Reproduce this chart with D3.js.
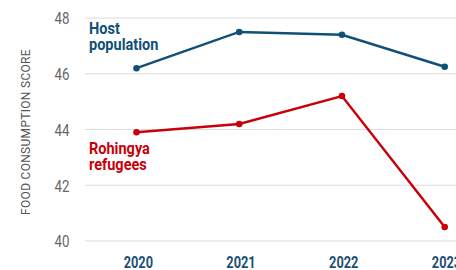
<!DOCTYPE html>
<html>
<head>
<meta charset="utf-8">
<script src="https://cdn.jsdelivr.net/npm/d3@7"></script>
<style>
  body { margin: 0; background: #fff; }
  svg text { font-family: Roboto, "Liberation Sans", sans-serif; }
</style>
</head>
<body>
<svg width="456" height="270"></svg>
<script>
var years = [2020, 2021, 2022, 2023];
var hostValues = [46.2, 47.5, 47.4, 46.25];
var refugeeValues = [43.9, 44.2, 45.2, 40.5];
var yTicks = [40, 42, 44, 46, 48];

var hostColor = "#0f5078",
    refugeeColor = "#c8000a";

var svg = d3.select("svg"),
    width = +svg.attr("width"),
    height = +svg.attr("height");

var x = d3.scalePoint()
          .domain(years)
          .range([136.5, 444.7]);

var y = d3.scaleLinear()
          .domain([40, 48])
          .range([241, 18]);

// gridlines
svg.append("g")
   .selectAll("line")
   .data(yTicks)
   .enter().append("line")
   .attr("x1", 85)
   .attr("x2", width)
   .attr("y1", function(d) { return y(d); })
   .attr("y2", function(d) { return y(d); })
   .attr("stroke", "#dcdcdc")
   .attr("stroke-width", 1.2);

// y axis labels (squeezed to look like a condensed face)
var yAxis = svg.append("g")
               .attr("transform", "translate(69.5,0)")
               .call(d3.axisLeft(y).tickValues(yTicks).tickSize(0).tickPadding(0));
yAxis.select(".domain").remove();
yAxis.selectAll("text")
     .attr("fill", "#666")
     .attr("dy", "0.36em")
     .attr("transform", "scale(0.83,1)")
     .style("font-size", "16px");

// x axis labels
var xAxis = svg.append("g")
               .attr("transform", "translate(1.3,256.5)")
               .call(d3.axisBottom(x).tickSize(0).tickPadding(0));
xAxis.select(".domain").remove();
xAxis.selectAll("text")
     .attr("fill", "#1d4f73")
     .attr("dy", "0.71em")
     .attr("transform", "scale(0.8,1)")
     .style("font-size", "16px")
     .style("font-weight", "bold");

svg.append("text")
   .attr("transform", "translate(30,132) rotate(-90)")
   .attr("text-anchor", "middle")
   .attr("fill", "#555")
   .style("font-size", "12px")
   .style("letter-spacing", "0.3px")
   .text("FOOD CONSUMPTION SCORE");

var line = d3.line()
             .x(function(d, i) { return x(years[i]); })
             .y(function(d) { return y(d); });

function drawSeries(values, color) {
    svg.append("path")
       .datum(values)
       .attr("fill", "none")
       .attr("stroke", color)
       .attr("stroke-width", 2.5)
       .attr("d", line);

    svg.append("g")
       .selectAll("circle")
       .data(values)
       .enter().append("circle")
       .attr("cx", function(d, i) { return x(years[i]); })
       .attr("cy", function(d) { return y(d); })
       .attr("r", 3.3)
       .attr("fill", color);
}

drawSeries(hostValues, hostColor);
drawSeries(refugeeValues, refugeeColor);

function seriesLabel(lines, top, color) {
    var t = svg.append("g")
               .attr("transform", "translate(89,0) scale(0.88,1)")
               .append("text")
               .attr("fill", color)
               .style("font-size", "16.5px")
               .style("font-weight", "bold");
    t.selectAll("tspan")
     .data(lines)
     .enter().append("tspan")
     .attr("x", 0)
     .attr("y", function(d, i) { return top + i * 15.5; })
     .text(function(d) { return d; });
}

seriesLabel(["Host", "population"], 34.3, hostColor);
seriesLabel(["Rohingya", "refugees"], 154.5, refugeeColor);
</script>
</body>
</html>
